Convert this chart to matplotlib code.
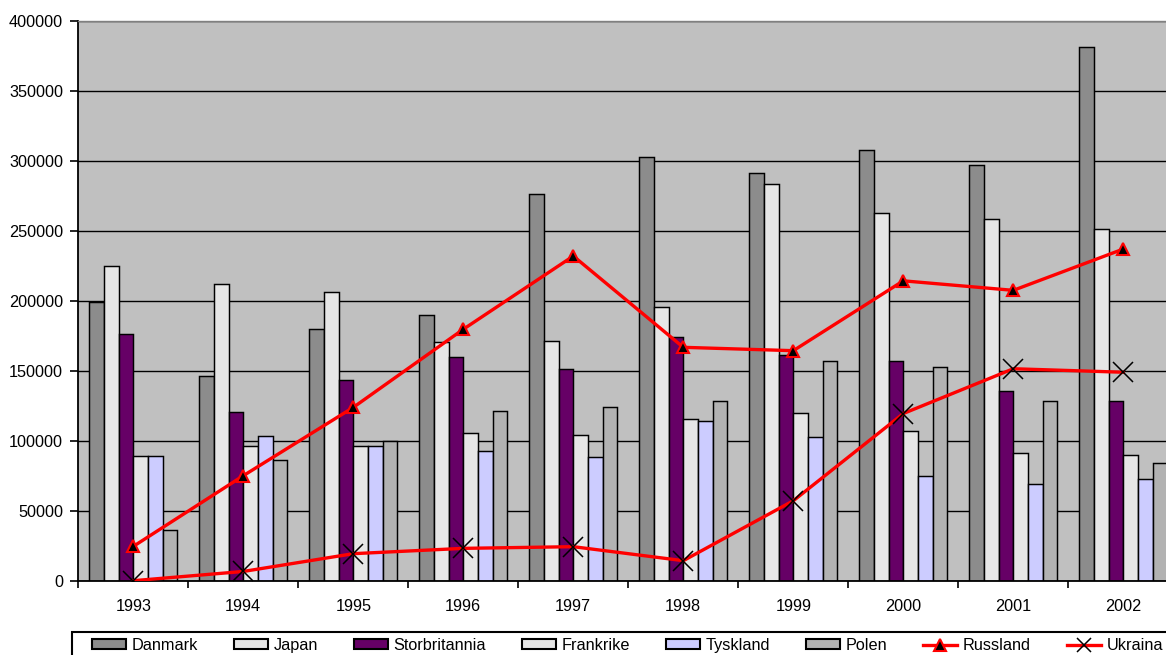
import matplotlib
matplotlib.use("Agg")
import matplotlib.pyplot as plt
from matplotlib.patches import Rectangle
from matplotlib.lines import Line2D
import numpy as np

plt.rcParams['font.family'] = ['Liberation Sans', 'DejaVu Sans']

years = ['1993', '1994', '1995', '1996', '1997', '1998', '1999', '2000', '2001', '2002']
danmark = [199000, 146000, 180000, 190000, 276000, 303000, 291000, 308000, 297000, 381000]
japan = [224500, 211700, 205900, 170300, 171200, 195700, 283100, 262600, 258200, 251100]
storbritannia = [176200, 120200, 143100, 160000, 151400, 174300, 161200, 156800, 135500, 128400]
frankrike = [88800, 95900, 95900, 105700, 104300, 115700, 119800, 106800, 91300, 89600]
tyskland = [88800, 103100, 95900, 92600, 88600, 114100, 102900, 75100, 69400, 73000]
polen = [35900, 85900, 100000, 121400, 124300, 128600, 157100, 152700, 128400, 83900]
russland = [24500, 75000, 123800, 179600, 231900, 166700, 164300, 214200, 207400, 236900]
ukraina = [0, 6600, 19300, 23100, 24300, 14300, 57100, 119400, 151400, 148900]

bar_series = [
    ('Danmark', danmark, '#8C8C8C'),
    ('Japan', japan, '#E6E6E6'),
    ('Storbritannia', storbritannia, '#660066'),
    ('Frankrike', frankrike, '#E6E6E6'),
    ('Tyskland', tyskland, '#CCCCFF'),
    ('Polen', polen, '#B2B2B2'),
]

W, H = 1166, 655
fig = plt.figure(figsize=(W / 100, H / 100), dpi=100)
fig.patch.set_facecolor('white')

left_px, right_px, top_px, bottom_px = 78.3, 1178.3, 20.7, 580.7
ax = fig.add_axes([left_px / W, 1 - bottom_px / H, (right_px - left_px) / W, (bottom_px - top_px) / H])
ax.set_facecolor('#C0C0C0')

x = np.arange(len(years))
n = len(bar_series)
bw = 1.0 / (n + 1.5)
handles = []
for j, (name, vals, col) in enumerate(bar_series):
    ax.bar(x + (j - (n - 1) / 2) * bw, vals, width=bw, color=col,
           edgecolor='black', linewidth=1.05, zorder=2)
    handles.append(Rectangle((0, 0), 1, 1, facecolor=col, edgecolor='black', linewidth=1.5))

ax.plot(x, russland, color='#FF0000', linewidth=2.4, marker='^', markersize=8.5,
        markerfacecolor='black', markeredgecolor='#FF0000', markeredgewidth=1.5, zorder=4)
ax.plot(x, ukraina, color='#FF0000', linewidth=2.4, marker='x', markersize=15,
        markeredgecolor='black', markeredgewidth=1.1, zorder=4)

handles.append(Line2D([], [], color='#FF0000', linewidth=2.4, marker='^', markersize=8.5,
                      markerfacecolor='black', markeredgecolor='#FF0000', markeredgewidth=1.5))
handles.append(Line2D([], [], color='#FF0000', linewidth=2.4, marker='x', markersize=10,
                      markeredgecolor='black', markeredgewidth=1.1))
labels = [s[0] for s in bar_series] + ['Russland', 'Ukraina']

ax.set_xlim(-0.5, len(years) - 0.5)
ax.set_ylim(0, 400000)
ax.set_yticks(np.arange(0, 400001, 50000))
ax.set_yticklabels([str(v) for v in range(0, 400001, 50000)])
ax.yaxis.grid(True, color='black', linewidth=1.0)
ax.set_axisbelow(True)

ax.set_xticks(x)
ax.set_xticklabels(years)
ax.set_xticks(np.arange(-0.5, len(years) + 0.5, 1), minor=True)
ax.tick_params(axis='x', which='major', length=0, pad=13, labelsize=11.7)
ax.tick_params(axis='x', which='minor', length=5, width=1.2, direction='out')
ax.tick_params(axis='y', length=6, width=1.2, direction='out', pad=5, labelsize=11.7)

for s in ['left', 'bottom']:
    ax.spines[s].set_color('black')
    ax.spines[s].set_linewidth(1.3)
ax.spines['top'].set_color('#808080')
ax.spines['top'].set_linewidth(1.0)
ax.spines['right'].set_visible(False)

# legend frame
fr_l, fr_t, fr_r, fr_b = 72, 632, 1172, 664
fig.patches.append(Rectangle((fr_l / W, 1 - fr_b / H), (fr_r - fr_l) / W, (fr_b - fr_t) / H,
                             transform=fig.transFigure, facecolor='white', edgecolor='black',
                             linewidth=1.5, zorder=0))
fig.legend(handles, labels, loc='center left', bbox_to_anchor=(92 / W, 1 - 645.5 / H),
           ncol=8, frameon=False, fontsize=11.7, borderpad=0, borderaxespad=0,
           handlelength=2.1, handleheight=0.55, handletextpad=0.35, columnspacing=2.2)

fig.savefig('out.png', dpi=100, facecolor='white')
